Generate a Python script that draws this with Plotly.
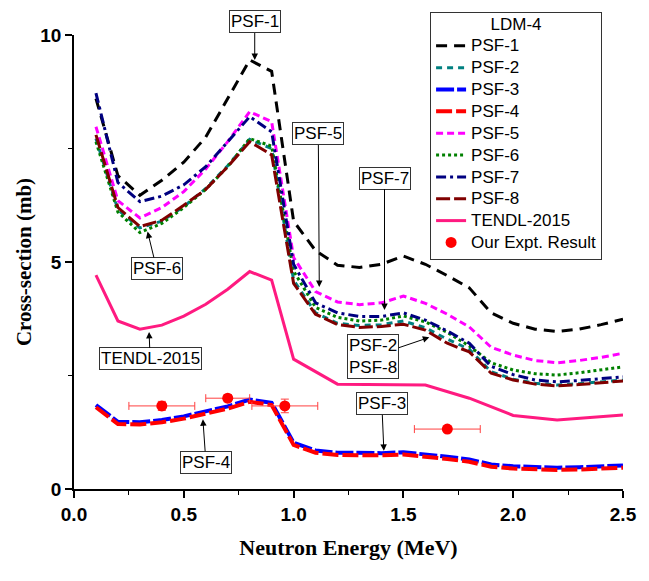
import plotly.graph_objects as go

# Neutron energies (MeV) of the LDM-4 model calculations
energy = [0.1, 0.2, 0.3, 0.4, 0.5, 0.6, 0.7, 0.8, 0.9, 1.0, 1.1, 1.2, 1.3,
          1.4, 1.5, 1.6, 1.7, 1.8, 1.9, 2.0, 2.1, 2.2, 2.3, 2.4, 2.5]

# Cross-sections (mb) for each photon strength function
psf1 = [8.60, 6.90, 6.47, 6.80, 7.20, 7.75, 8.60, 9.45, 9.20, 5.90, 5.25, 4.93, 4.88,
        4.95, 5.13, 4.95, 4.70, 4.43, 3.88, 3.65, 3.52, 3.47, 3.52, 3.62, 3.74]
psf2 = [7.72, 6.15, 5.75, 5.90, 6.22, 6.62, 7.12, 7.70, 7.50, 4.60, 3.88, 3.65, 3.60,
        3.62, 3.70, 3.55, 3.30, 3.08, 2.58, 2.42, 2.33, 2.29, 2.32, 2.36, 2.40]
psf3 = [1.85, 1.48, 1.47, 1.52, 1.60, 1.70, 1.82, 1.97, 1.90, 1.02, 0.85, 0.80, 0.79,
        0.79, 0.81, 0.77, 0.71, 0.65, 0.54, 0.50, 0.48, 0.47, 0.48, 0.50, 0.52]
psf4 = [1.80, 1.43, 1.42, 1.47, 1.55, 1.65, 1.77, 1.92, 1.85, 0.97, 0.80, 0.75, 0.74,
        0.74, 0.76, 0.72, 0.66, 0.60, 0.49, 0.45, 0.43, 0.42, 0.43, 0.45, 0.47]
psf5 = [7.98, 6.35, 5.97, 6.20, 6.55, 7.05, 7.65, 8.31, 8.09, 5.10, 4.35, 4.12, 4.06,
        4.10, 4.25, 4.09, 3.85, 3.57, 3.12, 2.95, 2.83, 2.78, 2.83, 2.90, 2.99]
psf6 = [7.65, 6.10, 5.65, 5.85, 6.20, 6.60, 7.10, 7.72, 7.55, 4.80, 4.00, 3.78, 3.70,
        3.72, 3.81, 3.68, 3.45, 3.15, 2.78, 2.62, 2.54, 2.51, 2.56, 2.62, 2.69]
psf7 = [8.72, 6.75, 6.33, 6.45, 6.70, 7.10, 7.65, 8.20, 7.87, 4.95, 4.10, 3.88, 3.80,
        3.80, 3.88, 3.72, 3.48, 3.21, 2.70, 2.52, 2.40, 2.36, 2.39, 2.43, 2.47]
psf8 = [7.80, 6.20, 5.78, 5.92, 6.25, 6.60, 7.10, 7.65, 7.36, 4.53, 3.85, 3.62, 3.56,
        3.58, 3.63, 3.50, 3.21, 3.02, 2.55, 2.40, 2.31, 2.27, 2.30, 2.34, 2.38]

# TENDL-2015 evaluated data
tendl_energy = [0.1, 0.2, 0.3, 0.4, 0.5, 0.6, 0.7, 0.8, 0.9, 1.0, 1.2, 1.4, 1.6,
                1.8, 2.0, 2.2, 2.5]
tendl = [4.71, 3.70, 3.52, 3.61, 3.81, 4.07, 4.40, 4.79, 4.60, 2.86, 2.31, 2.30, 2.29,
         2.00, 1.62, 1.52, 1.63]

# Measured cross-sections with energy spread and uncertainty
expt_energy = [0.40, 0.70, 0.96, 1.70]
expt_xs = [1.83, 2.00, 1.83, 1.32]
expt_dE = [0.15, 0.10, 0.15, 0.15]
expt_dxs = [0.10, 0.08, 0.15, 0.05]

series = [
    ("PSF-1", psf1, "#000000", 3, "11px,7px"),
    ("PSF-2", psf2, "#008080", 3, "6px,5px"),
    ("PSF-3", psf3, "#0000FF", 4, "18px,3px"),
    ("PSF-4", psf4, "#FF0000", 4, "16px,4px"),
    ("PSF-5", psf5, "#FF00FF", 3, "7px,4px"),
    ("PSF-6", psf6, "#008000", 3, "3px,3px"),
    ("PSF-7", psf7, "#000080", 3, "10px,4px,3px,4px"),
    ("PSF-8", psf8, "#800000", 3, "14px,4px"),
]


def legend_label(text):
    # larger glyphs inside a compact legend row
    return '<span style="font-size:17px">' + text + "</span>"


fig = go.Figure()
for name, ys, color, width, dash in series:
    fig.add_trace(go.Scatter(
        x=energy, y=ys, mode="lines", name=legend_label(name),
        line=dict(color=color, width=width, dash=dash),
    ))

fig.add_trace(go.Scatter(
    x=tendl_energy, y=tendl, mode="lines", name=legend_label("TENDL-2015"),
    line=dict(color="#FF1A80", width=3),
))

fig.add_trace(go.Scatter(
    x=expt_energy, y=expt_xs, mode="markers", name=legend_label("Our Expt. Result"),
    marker=dict(color="#FF0000", size=11),
    error_x=dict(type="data", array=expt_dE, color="#FF4040", thickness=1, width=4),
    error_y=dict(type="data", array=expt_dxs, color="#FF4040", thickness=1, width=4),
))

# Labelled arrows pointing at individual curves: (text, x, y, ax, ay)
labels = [
    ("PSF-1", 0.823, 9.45, 0, -38),
    ("PSF-5", 1.117, 4.45, -1, -153),
    ("PSF-7", 1.414, 3.94, 0, -132),
    ("PSF-6", 0.335, 5.67, 9, 37),
    ("TENDL-2015", 0.342, 3.46, 1, 27),
    ("PSF-4", 0.587, 1.535, 3, 43),
    ("PSF-3", 1.411, 0.84, -2, -47),
    ("PSF-2<br>PSF-8", 1.618, 3.34, -56, 19),
]
for text, x, y, ax, ay in labels:
    fig.add_annotation(
        x=x, y=y, ax=ax, ay=ay, text=text,
        showarrow=True, arrowhead=2, arrowsize=1.3, arrowwidth=1, arrowcolor="#000000",
        font=dict(family="Liberation Sans, Arial", size=17, color="#000000"),
        bgcolor="#FFFFFF", bordercolor="#333333", borderwidth=1, borderpad=1,
    )

fig.update_layout(
    width=649, height=581,
    margin=dict(l=74, r=20, t=35, b=92),
    paper_bgcolor="#FFFFFF", plot_bgcolor="#FFFFFF",
    showlegend=True,
    legend=dict(
        x=0.6486, y=1.0507, xanchor="left", yanchor="top",
        bgcolor="#FFFFFF", bordercolor="#333333", borderwidth=1,
        font=dict(family="Liberation Sans, Arial", size=14.5, color="#000000"),
        title=dict(text='<span style="font-size:17px">LDM-4</span>', side="top center",
                   font=dict(family="Liberation Sans, Arial", size=13, color="#000000")),
    ),
    xaxis=dict(
        range=[0, 2.5], dtick=0.5, tickformat=".1f",
        showline=True, linecolor="#000000", linewidth=1.5,
        ticks="outside", ticklen=7, tickwidth=1.5, tickcolor="#000000",
        minor=dict(dtick=0.25, ticks="outside", ticklen=4, tickwidth=1.2, tickcolor="#000000"),
        showgrid=False, zeroline=False,
        tickfont=dict(family="Liberation Sans, Arial", size=19, color="#000000", weight="bold"),
        title=dict(text="Neutron Energy (MeV)", standoff=16,
                   font=dict(family="Liberation Serif, Times New Roman", size=22,
                             color="#000000", weight="bold")),
    ),
    yaxis=dict(
        range=[0, 10], tickvals=[0, 5, 10],
        showline=True, linecolor="#000000", linewidth=1.5,
        ticks="outside", ticklen=7, tickwidth=1.5, tickcolor="#000000",
        minor=dict(dtick=2.5, ticks="outside", ticklen=4, tickwidth=1.2, tickcolor="#000000"),
        showgrid=False, zeroline=False,
        tickfont=dict(family="Liberation Sans, Arial", size=19, color="#000000", weight="bold"),
        title=dict(text="Cross-section (mb)", standoff=3,
                   font=dict(family="Liberation Serif, Times New Roman", size=21,
                             color="#000000", weight="bold")),
    ),
)

fig.write_html("out.html")
